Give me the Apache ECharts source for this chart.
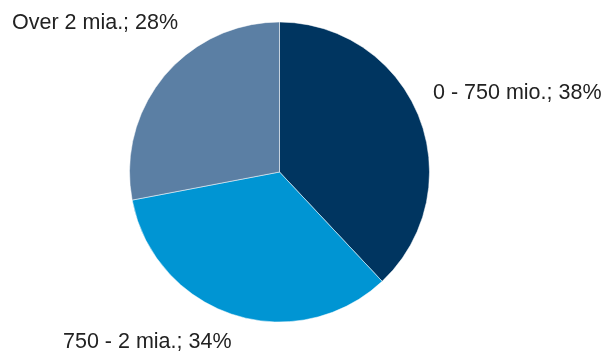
<!DOCTYPE html>
<html>
<head>
<meta charset="utf-8">
<script src="https://cdn.jsdelivr.net/npm/echarts@6/dist/echarts.min.js"></script>
<style>
  html, body { margin: 0; padding: 0; background: #fff; }
  #chart { width: 606px; height: 352px; }
</style>
</head>
<body>
<div id="chart"></div>
<script>
// Segment names and shares (percent)
const categories = ['0 - 750 mio.', '750 - 2 mia.', 'Over 2 mia.'];
const shares = [38, 34, 28];
const colors = ['#003560', '#0095d3', '#5b7fa4'];

// Fixed anchor (left edge, vertical middle) for each slice label
const labelAnchors = [
  [433, 93],
  [63, 342],
  [12, 23]
];

const chart = echarts.init(document.getElementById('chart'));
chart.setOption({
  animation: false,
  series: [{
    type: 'pie',
    center: [279.5, 172],
    radius: 150,
    startAngle: 90,
    clockwise: true,
    data: categories.map((name, i) => ({
      name: name,
      value: shares[i],
      itemStyle: { color: colors[i] }
    })),
    itemStyle: { borderColor: '#ffffff', borderWidth: 0.5 },
    label: {
      show: true,
      position: 'outside',
      formatter: '{b}; {c}%',
      fontFamily: 'Liberation Sans, Arial, sans-serif',
      fontSize: 21.5,
      color: '#222222',
      width: 300,
      overflow: 'none'
    },
    labelLine: { show: false },
    labelLayout: function (params) {
      const a = labelAnchors[params.dataIndex];
      return { x: a[0], y: a[1], align: 'left', verticalAlign: 'middle', width: 300 };
    },
    emphasis: { disabled: true }
  }]
});
</script>
</body>
</html>
